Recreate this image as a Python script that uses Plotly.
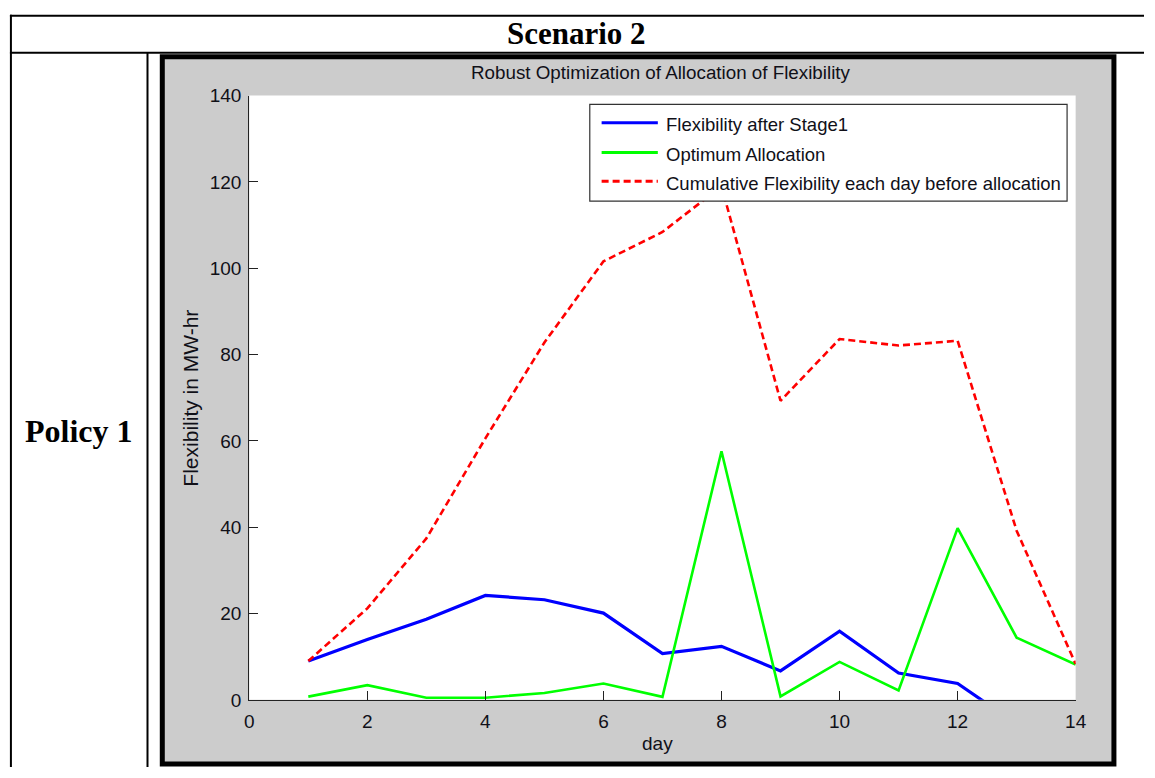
import plotly.graph_objects as go

# ---- data ----
days = [1, 2, 3, 4, 5, 6, 7, 8, 9, 10, 11, 12, 13, 14]
flex_after_stage1 = [9.0, 14.0, 18.7, 24.2, 23.2, 20.1, 10.7, 12.4, 6.7, 15.9, 6.2, 3.8, -5.6, -12.0]
optimum_allocation = [0.75, 3.4, 0.5, 0.5, 1.6, 3.8, 0.7, 57.6, 0.8, 8.8, 2.2, 39.8, 14.4, 8.2]
cumulative_flex = [9.0, 21.2, 37.4, 60.6, 82.8, 101.6, 108.4, 119.0, 69.3, 83.6, 82.1, 83.2, 39.2, 8.3]

series_names = [
    "Flexibility after Stage1",
    "Optimum Allocation",
    "Cumulative Flexibility each day before allocation",
]
x_ticks = [0, 2, 4, 6, 8, 10, 12, 14]
y_ticks = [0, 20, 40, 60, 80, 100, 120, 140]

# ---- page geometry (pixels) ----
W, H = 1155, 778


def px(x):
    return x / W


def py(y):
    return 1 - y / H


AX_L, AX_R, AX_T, AX_B = 247.7, 1085.7, 88.0, 709.0
FONT = "Liberation Sans, Arial, sans-serif"
SERIF = "Liberation Serif, Times New Roman, serif"
TXT = "#101018"

fig = go.Figure()

fig.add_trace(go.Scatter(x=days, y=flex_after_stage1, mode="lines",
                         line=dict(color="#0000FF", width=3.2),
                         name=series_names[0], showlegend=False))
fig.add_trace(go.Scatter(x=days, y=optimum_allocation, mode="lines",
                         line=dict(color="#00FF00", width=2.6),
                         name=series_names[1], showlegend=False))
fig.add_trace(go.Scatter(x=days, y=cumulative_flex, mode="lines",
                         line=dict(color="#FF0000", width=2.6, dash="7px,4px"),
                         name=series_names[2], showlegend=False))

shapes = []
# table rules
line_k = dict(color="black", width=2)
shapes.append(dict(type="line", xref="paper", yref="paper", x0=px(5), x1=px(W), y0=py(6), y1=py(6), line=line_k))
shapes.append(dict(type="line", xref="paper", yref="paper", x0=px(6), x1=px(6), y0=py(5), y1=py(H), line=line_k))
shapes.append(dict(type="line", xref="paper", yref="paper", x0=px(5), x1=px(W), y0=py(44), y1=py(44), line=line_k))
shapes.append(dict(type="line", xref="paper", yref="paper", x0=px(144.5), x1=px(144.5), y0=py(44), y1=py(H), line=line_k))

# grey figure window with a heavy black frame
shapes.append(dict(type="rect", xref="paper", yref="paper", layer="below",
                   x0=px(159.5), x1=px(1124.5), y0=py(48), y1=py(775),
                   fillcolor="#CCCCCC", line=dict(color="black", width=5)))
# white axes area on top of the grey window
shapes.append(dict(type="rect", xref="x domain", yref="y domain", layer="below",
                   x0=0, x1=1, y0=0, y1=1, fillcolor="white", line=dict(width=0)))

# legend box
LEG_L, LEG_R, LEG_T, LEG_B = 593, 1077, 97, 196.5
shapes.append(dict(type="rect", xref="paper", yref="paper", layer="above",
                   x0=px(LEG_L), x1=px(LEG_R), y0=py(LEG_T), y1=py(LEG_B),
                   fillcolor="white", line=dict(color="#333333", width=1.2)))
legend_styles = [
    dict(color="#0000FF", width=3),
    dict(color="#00FF00", width=3),
    dict(color="#FF0000", width=3, dash="7px,4px"),
]
legend_rows = [116, 146.5, 176]
annotations = []
for name, style, ry in zip(series_names, legend_styles, legend_rows):
    shapes.append(dict(type="line", xref="paper", yref="paper", layer="above",
                       x0=px(605), x1=px(662), y0=py(ry), y1=py(ry), line=style))
    annotations.append(dict(text=name, xref="paper", yref="paper", x=px(668), y=py(ry + 2),
                            xanchor="left", yanchor="middle", showarrow=False,
                            font=dict(family=FONT, size=18.5, color=TXT)))

# table labels
annotations.append(dict(text="<b>Scenario 2</b>", xref="paper", yref="paper", x=px(580), y=py(24),
                        xanchor="center", yanchor="middle", showarrow=False,
                        font=dict(family=SERIF, size=31, color="black")))
annotations.append(dict(text="<b>Policy 1</b>", xref="paper", yref="paper", x=px(75), y=py(433),
                        xanchor="center", yanchor="middle", showarrow=False,
                        font=dict(family=SERIF, size=32, color="black")))

# chart title and axis titles
annotations.append(dict(text="Robust Optimization of Allocation of Flexibility", xref="paper", yref="paper",
                        x=px(665), y=py(64), xanchor="center", yanchor="middle", showarrow=False,
                        font=dict(family=FONT, size=18.8, color=TXT)))
annotations.append(dict(text="day", xref="paper", yref="paper",
                        x=px(662), y=py(754), xanchor="center", yanchor="middle", showarrow=False,
                        font=dict(family=FONT, size=19, color=TXT)))
annotations.append(dict(text="Flexibility in MW-hr", xref="paper", yref="paper", textangle=-90,
                        x=px(188), y=py(399), xanchor="center", yanchor="middle", showarrow=False,
                        font=dict(family=FONT, size=21, color=TXT)))

axis_common = dict(showline=True, linecolor="#222222", linewidth=1.2, mirror=False,
                   ticks="inside", ticklen=9, tickwidth=1.2, tickcolor="#222222",
                   showgrid=False, zeroline=False,
                   tickfont=dict(family=FONT, size=19, color=TXT))

fig.update_layout(
    width=W, height=H,
    margin=dict(l=0, r=0, t=0, b=0),
    paper_bgcolor="white",
    plot_bgcolor="white",
    xaxis=dict(domain=[px(AX_L), px(AX_R)], range=[0, 14], tickvals=x_ticks,
               ticklabelstandoff=4, **axis_common),
    yaxis=dict(domain=[py(AX_B), py(AX_T)], range=[0, 140], tickvals=y_ticks,
               ticklabelstandoff=3, **axis_common),
    shapes=shapes,
    annotations=annotations,
)

fig.write_html("out.html")
